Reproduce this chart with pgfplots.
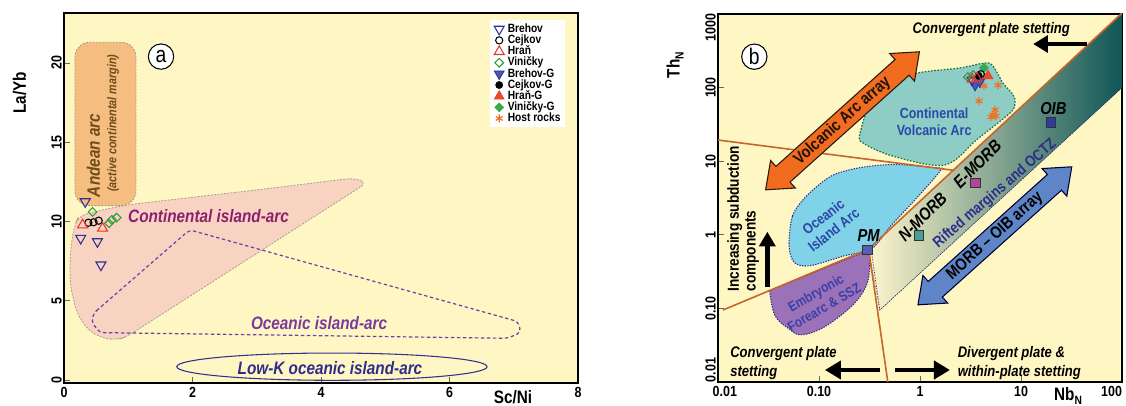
\documentclass[border=0pt]{standalone}
\usepackage{fontspec}
\setmainfont{Liberation Sans}[FakeStretch=0.85]
\usepackage{pgfplots}
\pgfplotsset{compat=1.18}
\usetikzlibrary{shapes.arrows,arrows.meta}
\definecolor{bgy}{HTML}{FFF7C3}
\definecolor{andean}{HTML}{F5BD80}
\definecolor{grayb}{HTML}{A89C8C}
\definecolor{contpink}{HTML}{F9D3C2}
\definecolor{oceanpurple}{HTML}{6B3FA6}
\definecolor{lowk}{HTML}{33308F}
\definecolor{txtcont}{HTML}{8C1F6E}
\definecolor{txtocean}{HTML}{7A3A9E}
\definecolor{txtlowk}{HTML}{2D2D8C}
\definecolor{txtandean}{HTML}{6E4C18}
\definecolor{tblue}{HTML}{2E3192}
\definecolor{tbluefill}{HTML}{4A58B0}
\definecolor{tred}{HTML}{E8352A}
\definecolor{tredfill}{HTML}{F04A25}
\definecolor{tgreen}{HTML}{2E9E3E}
\definecolor{tgreenfill}{HTML}{3AAA48}
\definecolor{torange}{HTML}{F27022}
\definecolor{cva}{HTML}{8ECCC6}
\definecolor{cvaborder}{HTML}{1E6B3E}
\definecolor{oia}{HTML}{7FD2E8}
\definecolor{oiaborder}{HTML}{2C2C8C}
\definecolor{emb}{HTML}{9B72B8}
\definecolor{orline}{HTML}{C9642B}
\definecolor{bandL}{HTML}{FFF6CC}
\definecolor{bandM}{HTML}{99A08C}
\definecolor{bandR}{HTML}{0E5656}
\definecolor{varrow}{HTML}{F26C1F}
\definecolor{marrow}{HTML}{5E85C8}
\definecolor{pmcol}{HTML}{5560B0}
\definecolor{nmorb}{HTML}{4C9C98}
\definecolor{emorb}{HTML}{B2449C}
\definecolor{oibc}{HTML}{2E3CA0}
\definecolor{txtblue}{HTML}{2C48A6}
\definecolor{txtemb}{HTML}{3A40A8}
\newcommand\fs[1]{\fontsize{#1}{#1}\selectfont}
\pgfplotsset{
 brehov/.style={only marks, color=tblue, mark=triangle, mark size=4.3pt, mark options={rotate=180, line width=0.8pt}},
 cejkov/.style={only marks, color=black, mark=o, mark size=2.7pt, mark options={line width=0.8pt}},
 hran/.style={only marks, color=tred, mark=triangle, mark size=4.3pt, mark options={line width=0.8pt}},
 vinicky/.style={only marks, color=tgreen, mark=square, mark size=2.3pt, mark options={rotate=45, line width=0.8pt}},
 brehovG/.style={only marks, color=tblue, mark=triangle*, mark size=4.3pt, mark options={rotate=180, fill=tbluefill, line width=0.6pt}},
 cejkovG/.style={only marks, color=black, mark=*, mark size=2.7pt},
 hranG/.style={only marks, color=tred, mark=triangle*, mark size=4.3pt, mark options={fill=tredfill}},
 vinickyG/.style={only marks, color=tgreen, mark=square*, mark size=2.3pt, mark options={rotate=45, fill=tgreenfill}},
 host/.style={only marks, color=torange, mark=asterisk, mark size=3pt, mark options={line width=0.9pt}},
 common/.style={scale only axis, anchor=south west,
   axis background/.style={fill=bgy},
   axis line style={line width=1.2pt},
   tick align=inside, tick pos=left, major tick length=4.5pt,
   tick style={line width=0.6pt, black!60},
   tick label style={font=\bfseries\fs{11}},
   yticklabel style={rotate=90, anchor=south, inner sep=1.5pt},
 }
}
\begin{document}
\begin{tikzpicture}
\useasboundingbox (0,0) rectangle (844.5pt,304.5pt);
% ---------------- panel a ----------------
\begin{axis}[common,
  at={(48pt,17.25pt)}, width=385.5pt, height=277.5pt,
  xmin=0, xmax=8, ymin=-0.19, ymax=23.15,
  xtick={0,2,4,6,8}, xticklabels={0,2,4,6,8},
  ytick={0,5,10,15,20}, yticklabels={0,5,10,15,20},
  legend style={at={(axis cs:6.63,22.71)}, anchor=north west, draw=none, fill=white,
    font=\bfseries\fs{9}, inner xsep=3pt, inner ysep=2.5pt, row sep=0pt, column sep=2.5pt,
    nodes={text height=6.4pt, text depth=1.5pt, inner sep=0.2pt}},
  legend cell align=left,
  legend image code/.code={\draw[mark repeat=2,mark phase=2,#1] plot coordinates {(0cm,0cm) (0.17cm,0cm) (0.34cm,0cm)};},
]
\filldraw[fill=contpink, draw=grayb, line width=0.6pt, dash pattern=on 1.5pt off 1pt, rounded corners=6pt]
 (axis cs:0.17,9.79) -- (axis cs:0.23,10.36) -- (axis cs:0.72,10.84) -- (axis cs:1.09,11.1) -- (axis cs:3.02,12.0) -- (axis cs:4.51,12.74) -- (axis cs:4.72,12.45) -- (axis cs:0.98,2.74) -- (axis cs:0.83,2.53) -- (axis cs:0.6,2.63) -- (axis cs:0.37,3.16) -- (axis cs:0.2,4.21) -- (axis cs:0.1,5.9) -- (axis cs:0.09,7.37) -- (axis cs:0.12,8.84) -- cycle;
\filldraw[fill=andean, draw=grayb, line width=0.6pt, dash pattern=on 1.5pt off 1pt, rounded corners=11pt]
 (axis cs:0.17,11.0) rectangle (axis cs:1.12,21.3);
\draw[oceanpurple, line width=0.9pt, dash pattern=on 2.5pt off 2pt, rounded corners=3pt]
 (axis cs:0.46,4.21) -- (axis cs:1.955,9.47) -- (axis cs:7.07,3.68) -- (axis cs:7.11,2.99) -- (axis cs:6.9,2.63) -- (axis cs:0.55,2.99) -- (axis cs:0.43,3.68) -- cycle;
\draw[lowk, line width=0.8pt] (axis cs:4.17,0.84) ellipse [x radius=2.415, y radius=0.86];
\node[txtcont, font=\bfseries\itshape\fs{13.5}] at (axis cs:2.25,10.37) {Continental island-arc};
\node[txtocean, font=\bfseries\itshape\fs{13.5}] at (axis cs:3.97,3.58) {Oceanic island-arc};
\node[txtlowk, font=\bfseries\itshape\fs{13.5}] at (axis cs:4.14,0.74) {Low-K oceanic island-arc};
\node[txtandean, rotate=90, font=\bfseries\itshape\fs{13.5}] at (axis cs:0.46,14.17) {Andean arc};
\node[txtandean, rotate=90, font=\bfseries\itshape\fs{9.5}] at (axis cs:0.765,16.2) {(active continental margin)};
\node[circle, draw=black, fill=white, line width=0.8pt, minimum size=19pt, inner sep=0pt, font=\fs{17}] at (axis cs:1.51,20.4) {a};
\addplot[brehov] coordinates {(0.33,11.25) (0.26,8.94) (0.52,8.73) (0.575,7.26)};
\addlegendentry{Brehov}
\addplot[cejkov] coordinates {(0.38,9.92) (0.46,9.95) (0.54,10.05)};
\addlegendentry{Cejkov}
\addplot[hran] coordinates {(0.29,9.78) (0.60,9.57)};
\addlegendentry{Hraň}
\addplot[vinicky] coordinates {(0.445,10.6) (0.70,9.88) (0.745,10.1) (0.82,10.24)};
\addlegendentry{Viničky}
\addlegendimage{brehovG}\addlegendentry{Brehov-G}
\addlegendimage{cejkovG}\addlegendentry{Cejkov-G}
\addlegendimage{hranG}\addlegendentry{Hraň-G}
\addlegendimage{vinickyG}\addlegendentry{Viničky-G}
\addlegendimage{host}\addlegendentry{Host rocks}
\end{axis}
% ---------------- panel b ----------------
\begin{axis}[common,
  at={(538.5pt,18pt)}, width=303pt, height=276pt,
  xmode=log, ymode=log, xmin=0.01, xmax=100, ymin=0.01, ymax=1000,
  xminorticks=false, yminorticks=false,
  xtick={0.01,0.1,1,10,100},
  xticklabels={\makebox[0pt][l]{\hspace*{-4pt}0.01},0.10,1,10,\makebox[0pt][r]{100}},
  ytick={0.01,0.1,1,10,100,1000},
  yticklabels={\makebox[0pt][l]{0.01},0.10,1,10,100,\makebox[0pt][r]{1000}},
]
% mantle array band
\fill[left color=bandL, middle color=bandM, right color=bandR]
 (axis cs:0.31,0.64) -- (axis cs:100,1030) -- (axis cs:100,100) -- (axis cs:0.40,0.095) -- cycle;
\draw[oiaborder, line width=0.5pt, dash pattern=on 1pt off 1pt] (axis cs:0.33,0.6) -- (axis cs:0.40,0.095) -- (axis cs:100,100);
% continental volcanic arc
\filldraw[fill=cva, draw=cvaborder, line width=0.9pt, dash pattern=on 1.2pt off 1.2pt]
 plot[smooth cycle, tension=0.55] coordinates {(axis cs:0.255,23.9) (axis cs:0.351,75) (axis cs:0.778,148) (axis cs:2.49,185) (axis cs:4.4,216) (axis cs:5.28,196) (axis cs:6.64,115) (axis cs:8.34,80) (axis cs:8.73,61.8) (axis cs:7.78,45.2) (axis cs:3.7,20) (axis cs:1.77,8.9) (axis cs:0.565,11.5) (axis cs:0.276,17.5)};
% oceanic island arc
\filldraw[fill=oia, draw=oiaborder, line width=0.8pt, dash pattern=on 1pt off 1pt]
 plot[smooth cycle, tension=0.5] coordinates {(axis cs:0.0505,0.708) (axis cs:0.0546,1.80) (axis cs:0.0753,3.37) (axis cs:0.132,6.28) (axis cs:0.25,8.14) (axis cs:0.557,9.03) (axis cs:1.46,8.14) (axis cs:1.58,7.34) (axis cs:0.90,3.03) (axis cs:0.514,1.32) (axis cs:0.33,0.64) (axis cs:0.18,0.52) (axis cs:0.0815,0.38) (axis cs:0.057,0.42)};
% embryonic forearc
\filldraw[fill=emb, draw=oiaborder, line width=0.8pt, dash pattern=on 1pt off 1pt]
 plot[smooth, tension=0.6] coordinates {(axis cs:0.0324,0.174) (axis cs:0.0366,0.080) (axis cs:0.0505,0.0527) (axis cs:0.0668,0.0437) (axis cs:0.112,0.0556) (axis cs:0.213,0.109) (axis cs:0.294,0.204) (axis cs:0.318,0.38) (axis cs:0.31,0.62)} -- cycle;
% orange lines
\draw[orline, line width=1.2pt] (axis cs:0.31,0.64) -- (axis cs:100,1030);
\draw[orline, line width=1.2pt] (axis cs:0.0112,0.095) -- (axis cs:0.31,0.64) -- (axis cs:0.48,0.01);
\draw[orline, line width=1.2pt] (axis cs:0.01,19.4) -- (axis cs:2.185,7.5);
% double arrows
\node[double arrow, draw=black!80!brown, fill=varrow, line width=0.8pt, rotate=41.9,
  minimum height=155pt, double arrow head extend=6pt, double arrow tip angle=77,
  inner xsep=0pt, inner ysep=1.75pt, text height=9pt, text depth=2.5pt,
  font=\bfseries\fs{12.5}, text=black!85!brown] at (axis cs:0.171,35.4) {Volcanic Arc array};
\node[double arrow, draw=black!80!blue, fill=marrow, line width=0.8pt, rotate=41.9,
  minimum height=155pt, double arrow head extend=6pt, double arrow tip angle=77,
  inner xsep=0pt, inner ysep=1.75pt, text height=9pt, text depth=2.5pt,
  font=\bfseries\fs{12.5}, text=black] at (axis cs:5.51,0.969) {MORB -- OIB array};
% black arrows
\draw[line width=3.6pt, -{Triangle[length=11pt,width=12pt]}] (axis cs:0.0308,0.197) -- (axis cs:0.0308,1.10);
\draw[line width=3.6pt, -{Triangle[length=11pt,width=12.5pt]}] (axis cs:45.5,391) -- (axis cs:13.2,391);
\draw[line width=3.6pt, -{Triangle[length=12pt,width=13.5pt]}] (axis cs:0.402,0.01456) -- (axis cs:0.1146,0.01456);
\draw[line width=3.6pt, -{Triangle[length=12pt,width=13.5pt]}] (axis cs:0.565,0.01456) -- (axis cs:1.98,0.01456);
% texts
\node[txtblue, font=\bfseries\fs{11}, align=center, execute at begin node=\setlength{\baselineskip}{12.5pt}] at (axis cs:1.38,34.1) {Continental\\Volcanic Arc};
\node[txtblue, rotate=38, font=\bfseries\fs{11}, align=center, execute at begin node=\setlength{\baselineskip}{12.5pt}] at (axis cs:0.124,1.43) {Oceanic\\Island Arc};
\node[txtemb, rotate=30, font=\bfseries\fs{10.5}, align=center, execute at begin node=\setlength{\baselineskip}{12.5pt}] at (axis cs:0.102,0.130) {Embryonic\\Forearc \& SSZ};
\node[rotate=90, anchor=north west, inner sep=0pt, font=\bfseries\fs{12}, align=left, execute at begin node=\setlength{\baselineskip}{12.5pt}] at (axis cs:0.01228,0.1686) {Increasing subduction\\components};
\node[font=\bfseries\itshape\fs{13}] at (axis cs:1.06,1.76) [rotate=45] {N-MORB};
\node[font=\bfseries\itshape\fs{13}] at (axis cs:3.69,9.16) [rotate=45] {E-MORB};
\node[font=\bfseries\itshape\fs{13}] at (axis cs:20.9,52.4) {OIB};
\node[font=\bfseries\itshape\fs{13}] at (axis cs:0.31,0.965) {PM};
\node[oiaborder, rotate=41, font=\bfseries\fs{11.5}] at (axis cs:5.53,3.58) {Rifted margins and OCTZ};
\node[font=\bfseries\itshape\fs{11.5}] at (axis cs:5.08,620) {Convergent plate stetting};
\node[anchor=base west, inner sep=0pt, font=\bfseries\itshape\fs{11.5}] at (axis cs:0.01315,0.0214) {Convergent plate};
\node[anchor=base west, inner sep=0pt, font=\bfseries\itshape\fs{11.5}] at (axis cs:0.01315,0.0118) {stetting};
\node[anchor=base west, inner sep=0pt, font=\bfseries\itshape\fs{11.5}] at (axis cs:2.35,0.0214) {Divergent plate \&};
\node[anchor=base west, inner sep=0pt, font=\bfseries\itshape\fs{11.5}] at (axis cs:2.35,0.0118) {within-plate stetting};
\node[circle, draw=black, fill=white, line width=0.8pt, minimum size=19pt, inner sep=0pt, font=\fs{17}] at (axis cs:0.0229,263) {b};
% reference compositions
\addplot[only marks, mark=square*, mark size=3.6pt, mark options={fill=pmcol, draw=black!80, line width=0.6pt}] coordinates {(0.303,0.62)};
\addplot[only marks, mark=square*, mark size=3.6pt, mark options={fill=nmorb, draw=black!80, line width=0.6pt}] coordinates {(0.973,0.99)};
\addplot[only marks, mark=square*, mark size=3.6pt, mark options={fill=emorb, draw=black!80, line width=0.6pt}] coordinates {(3.55,5.1)};
\addplot[only marks, mark=square*, mark size=3.6pt, mark options={fill=oibc, draw=black!80, line width=0.6pt}] coordinates {(19.8,33.7)};
% samples
\addplot[host] coordinates {(4.3,105) (5.92,108) (3.84,65.8) (5.53,49.7) (5.28,42.5) (5.05,39.9) (5.65,41.1)};
\addplot[vinickyG] coordinates {(4.3,185)};
\addplot[vinicky] coordinates {(2.98,139) (3.35,148)};
\addplot[brehovG] coordinates {(3.51,108) (3.9,120)};
\addplot[brehov] coordinates {(3.27,127)};
\addplot[cejkovG] coordinates {(3.8,145)};
\addplot[cejkov] coordinates {(4.0,152)};
\addplot[hran] coordinates {(3.67,135) (3.3,130)};
\addplot[hranG] coordinates {(4.71,144)};
\end{axis}
% axis labels
\node[rotate=90, font=\bfseries\fs{13.5}] at (14.6pt,234.75pt) {La/Yb};
\node[font=\bfseries\fs{13.5}] at (384.75pt,6.75pt) {Sc/Ni};
\node[rotate=90, font=\bfseries\fs{13.5}] at (506.25pt,255.75pt) {Th\raisebox{-3pt}{\fs{9}N}};
\node[font=\bfseries\fs{13.5}] at (801pt,7.5pt) {Nb\raisebox{-3pt}{\fs{9}N}};
\end{tikzpicture}
\end{document}
